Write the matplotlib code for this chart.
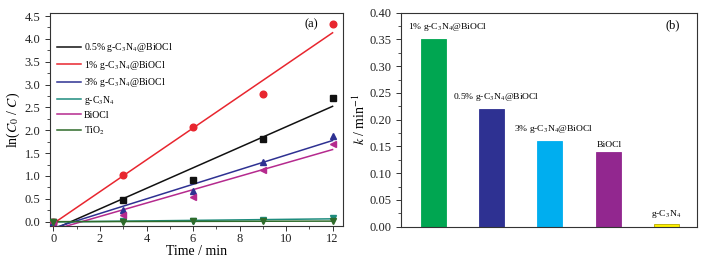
import numpy as np
import matplotlib
matplotlib.use("Agg")
import matplotlib.pyplot as plt
from matplotlib.ticker import MultipleLocator, AutoMinorLocator

plt.rcParams['font.family'] = ['Liberation Serif', 'DejaVu Serif']
plt.rcParams['mathtext.fontset'] = 'stix'

# --- panel (a) data ---
time_min = [0, 3, 6, 9, 12]
series_names = [r'0.5% g-C$_3$N$_4$@BiOCl', r'1% g-C$_3$N$_4$@BiOCl',
                r'3% g-C$_3$N$_4$@BiOCl', r'g-C$_3$N$_4$', 'BiOCl', r'TiO$_2$']
ln_c0_c = [
    [0, 0.47, 0.92, 1.80, 2.70],
    [0, 1.03, 2.08, 2.80, 4.33],
    [0, 0.25, 0.67, 1.30, 1.87],
    [0, 0.01, 0.02, 0.04, 0.07],
    [0, 0.14, 0.53, 1.13, 1.70],
    [0, 0.00, 0.01, 0.01, 0.01],
]
series_colors = ['#111111', '#E8262F', '#2E3192', '#1E8C7E', '#B52A8E', '#2F6B2A']
series_markers = ['s', 'o', '^', 'v', '<', 'v']

# --- panel (b) data ---
samples = [r'1% g-C$_3$N$_4$@BiOCl', r'0.5% g-C$_3$N$_4$@BiOCl',
           r'3% g-C$_3$N$_4$@BiOCl', 'BiOCl', r'g-C$_3$N$_4$']
k_values = [0.35, 0.22, 0.16, 0.14, 0.005]
bar_colors = ['#00A651', '#2E3192', '#00AEEF', '#92278F', '#FFF200']

fig = plt.figure(figsize=(7.08, 2.59), dpi=100)
ax1 = fig.add_axes([0.0706, 0.1274, 0.4139, 0.8212])
ax2 = fig.add_axes([0.5664, 0.1247, 0.4176, 0.8263])

for ax in (ax1, ax2):
    for s in ax.spines.values():
        s.set_linewidth(0.8)
        s.set_color('#333333')
    ax.tick_params(which='both', direction='out', labelsize=9, colors='#333333', labelcolor='#222222')
    ax.tick_params(which='major', length=3.5, width=0.7)
    ax.tick_params(which='minor', length=2, width=0.6)

# panel (a): points + linear fits
for name, ys, c, m in zip(series_names, ln_c0_c, series_colors, series_markers):
    ax1.plot(time_min, ys, linestyle='none', marker=m, color=c, markersize=4.8, zorder=3)
    slope, icpt = np.polyfit(time_min, ys, 1)
    xf = np.array([0, 12])
    ax1.plot(xf, slope * xf + icpt, color=c, lw=1.1, label=name, zorder=2)

ax1.set_xlim(-0.15, 12.45)
ax1.set_ylim(-0.095, 4.56)
ax1.xaxis.set_major_locator(MultipleLocator(2))
ax1.xaxis.set_minor_locator(MultipleLocator(1))
ax1.yaxis.set_major_locator(MultipleLocator(0.5))
ax1.yaxis.set_minor_locator(AutoMinorLocator(2))
ax1.tick_params(axis='x', pad=1.5)
ax1.set_xlabel('Time / min', fontsize=10, labelpad=0)
ax1.set_ylabel(r'ln($C_0$ / $C$)', fontsize=10, labelpad=2)
ax1.text(11.07, 4.32, '(a)', fontsize=9, ha='center', va='center')
ax1.legend(loc='upper left', bbox_to_anchor=(0.0, 0.9), frameon=False, fontsize=7,
           handlelength=2.5, handletextpad=0.3, labelspacing=0.45, borderaxespad=0.3)

# panel (b): rate constants
xpos = np.arange(len(samples))
ax2.bar(xpos, k_values, width=0.43, color=bar_colors,
        edgecolor=[c if c != '#FFF200' else '#B8A800' for c in bar_colors], linewidth=0.6)
label_offsets = [(0.25, 0.012), (0.08, 0.012), (0.07, 0.012), (0.02, 0.005), (0.0, 0.008)]
for x, k, name, (dx, dy) in zip(xpos, k_values, samples, label_offsets):
    ax2.text(x + dx, k + dy, name, fontsize=6.8, ha='center', va='bottom')
ax2.set_xlim(-0.555, 4.52)
ax2.set_ylim(0, 0.40)
ax2.set_xticks([])
ax2.yaxis.set_major_locator(MultipleLocator(0.05))
ax2.yaxis.set_minor_locator(AutoMinorLocator(2))
ax2.set_ylabel(r'$k$ / min$^{-1}$', fontsize=10, labelpad=1)
ax2.text(4.11, 0.377, '(b)', fontsize=9, ha='center', va='center')

fig.savefig('out.png', dpi=100)
